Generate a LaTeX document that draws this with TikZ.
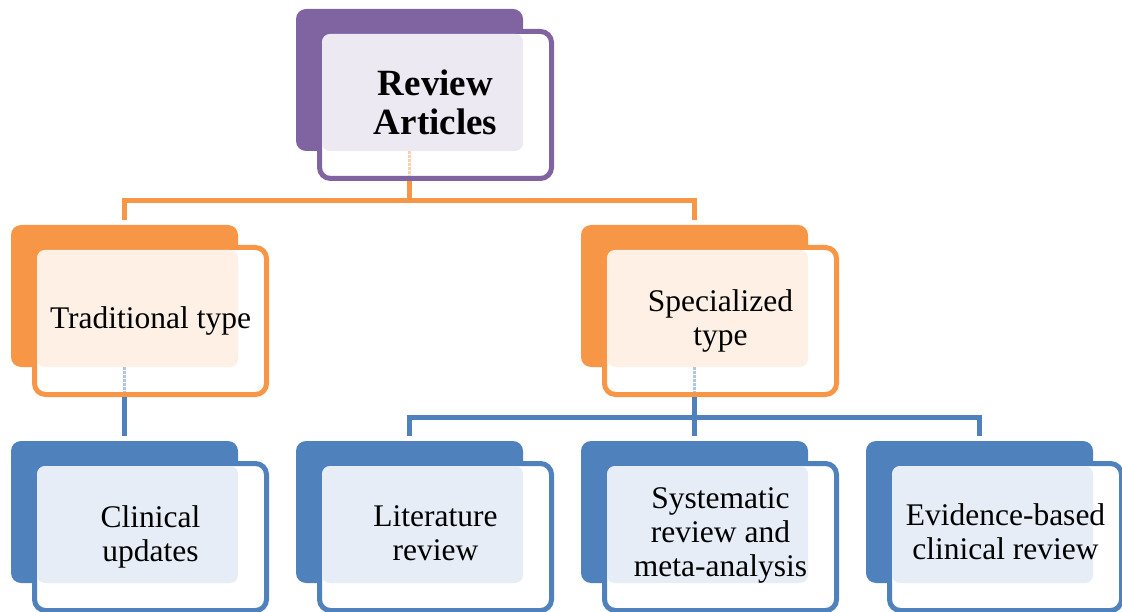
\documentclass[tikz,border=0pt]{standalone}
\usepackage{fontspec}
\setmainfont{Liberation Serif}
\usetikzlibrary{calc}

\definecolor{cardpurple}{HTML}{8064A2}
\definecolor{cardorange}{HTML}{F79646}
\definecolor{cardblue}{HTML}{4F81BD}

\tikzset{
  backbox/.style={rectangle, rounded corners=10pt, minimum width=227pt,
    minimum height=142pt, inner sep=0pt, outer sep=0pt, draw=none},
  frontbox/.style={rectangle, rounded corners=11pt, minimum width=232pt,
    minimum height=147pt, line width=5pt, fill=white, inner sep=0pt},
  cardtext/.style={align=center, font=\fontsize{31.5}{34}\selectfont, inner sep=0pt},
  titletext/.style={align=center, font=\fontsize{37}{39}\selectfont\bfseries, inner sep=0pt},
  link/.style={line width=5pt},
  ghost/.style={line width=3pt, densely dotted},
}

% card: name, colour, x and y of the back panel's top left corner,
% vertical shift of the label, label style, label
\newcommand\card[7]{%
  \node[backbox, fill=#2] (#1b) at (#3+113.5,#4+71) {};
  \node[frontbox, draw=#2] (#1f) at (#3+21+118.5,#4+20+76) {};
  \fill[#2!14, rounded corners=8pt] ($(#1f.north west)+(5,5)$) rectangle (#1b.south east);
  \node[#6] (#1t) at ($(#1f.center)+(0,#5)$) {#7};
}

\begin{document}
\begin{tikzpicture}[x=1pt,y=-1pt]
  \useasboundingbox (0,0) rectangle (1122,612);

  % cards
  \card{top}{cardpurple}{296}{9}{-3}{titletext}{Review\\Articles}
  \card{trad}{cardorange}{11}{225}{-0.5}{cardtext}{Traditional type}
  \card{spec}{cardorange}{581}{225}{-0.5}{cardtext}{Specialized\\type}
  \card{clin}{cardblue}{11}{441}{0}{cardtext}{Clinical\\updates}
  \card{lit}{cardblue}{296}{441}{-4}{cardtext}{Literature\\review}
  \card{sys}{cardblue}{581}{441}{-1.5}{cardtext}{Systematic\\review and\\meta-analysis}
  \card{ev}{cardblue}{866}{441}{-5.5}{cardtext}{Evidence-based\\clinical review}

  % faint traces of the links behind the front panels
  \draw[ghost, cardorange!45] (topb.south) -- ($(topb.south |- topf.south)+(0,-5)$);
  \draw[ghost, cardblue!45] (tradb.south) -- ($(tradb.south |- tradf.south)+(0,-5)$);
  \draw[ghost, cardblue!45] (specb.south) -- ($(specb.south |- specf.south)+(0,-5)$);

  % first level links
  \coordinate (obus) at (409.5,201);
  \draw[link, cardorange] (topb.south |- topf.south) -- (obus);
  \draw[link, cardorange] ($(tradb.north)+(0,-5)$) |- (obus) -| ($(specb.north)+(0,-5)$);

  % second level links
  \coordinate (bbus) at (694.5,417);
  \draw[link, cardblue] (tradb.south |- tradf.south) -- ($(clinb.north)+(0,-5)$);
  \draw[link, cardblue] (specb.south |- specf.south) -- ($(sysb.north)+(0,-5)$);
  \draw[link, cardblue] ($(litb.north)+(0,-5)$) |- (bbus) -| ($(evb.north)+(0,-5)$);
\end{tikzpicture}
\end{document}
